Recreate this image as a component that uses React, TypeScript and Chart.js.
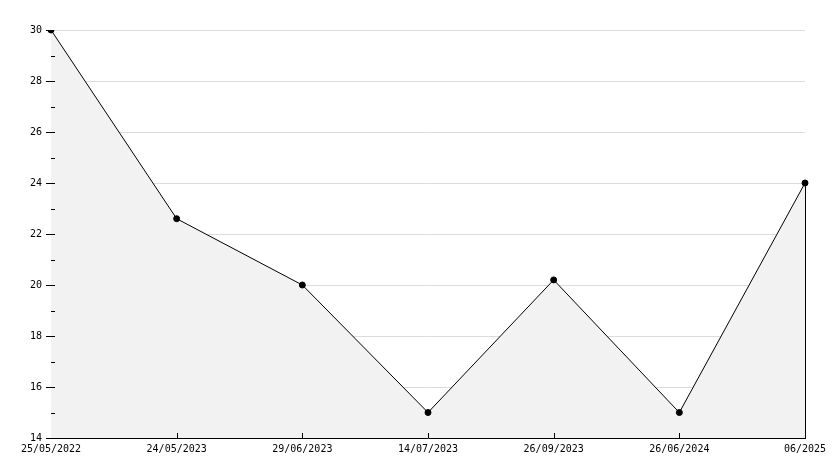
import React, { useEffect, useRef } from "react";
import { Chart, registerables } from "chart.js";

Chart.register(...registerables);

const categories = ["25/05/2022", "24/05/2023", "29/06/2023", "14/07/2023", "26/09/2023", "26/06/2024", "06/2025"];
const values = [30, 22.6, 20, 15, 20.2, 15, 24];
const yMin = 14;
const yMax = 30;
const yStep = 2;

const FONT = "'DejaVu Sans Mono', monospace";

const innerTicks = {
  id: "innerTicks",
  afterDatasetsDraw(chart: any) {
    const ctx = chart.ctx;
    const y = chart.scales.y;
    const x = chart.scales.x;
    const area = chart.chartArea;
    ctx.save();
    ctx.strokeStyle = "#000";
    ctx.lineWidth = 1;
    ctx.beginPath();
    for (let v = yMin + 1; v < yMax; v += 1) {
      const py = Math.round(y.getPixelForValue(v)) + 0.5;
      ctx.moveTo(area.left, py);
      ctx.lineTo(area.left + 4, py);
    }
    for (let i = 1; i < categories.length; i++) {
      const px = Math.round(x.getPixelForValue(i)) + 0.5;
      ctx.moveTo(px, area.bottom);
      ctx.lineTo(px, area.bottom - 5);
    }
    const last = values.length - 1;
    const lx = Math.round(x.getPixelForValue(last)) + 0.5;
    ctx.moveTo(lx, y.getPixelForValue(values[last]));
    ctx.lineTo(lx, area.bottom);
    ctx.stroke();
    ctx.restore();
  },
};

export default function App() {
  const ref = useRef<HTMLCanvasElement | null>(null);
  useEffect(() => {
    if (!ref.current) return;
    const chart = new Chart(ref.current, {
      type: "line",
      data: {
        labels: categories,
        datasets: [
          {
            data: values,
            borderColor: "#000",
            borderWidth: 1,
            backgroundColor: "#f2f2f2",
            fill: "origin",
            tension: 0,
            pointRadius: 3,
            pointBackgroundColor: "#000",
            pointBorderColor: "#000",
            pointStyle: "circle",
          },
        ],
      },
      options: {
        animation: false,
        responsive: false,
        maintainAspectRatio: false,
        layout: { padding: { top: 30, right: 29, left: 0, bottom: 0 } },
        plugins: { legend: { display: false }, tooltip: { enabled: false } },
        scales: {
          x: {
            offset: false,
            grid: { display: false, drawTicks: false },
            border: { color: "#000", width: 1 },
            ticks: {
              color: "#000",
              font: { family: FONT, size: 10 },
              padding: 5,
              maxRotation: 0,
              autoSkip: false,
            },
            afterFit(scale: any) {
              scale.height = 30;
            },
          },
          y: {
            min: yMin,
            max: yMax,
            grid: {
              color: "#dcdcdc",
              tickColor: "#000",
              tickLength: 5,
              lineWidth: 1,
            },
            border: { color: "#000", width: 1 },
            ticks: {
              stepSize: yStep,
              color: "#000",
              font: { family: FONT, size: 10 },
              padding: 4,
            },
            afterFit(scale: any) {
              scale.width = 51;
            },
          },
        },
      },
      plugins: [innerTicks],
    });
    return () => chart.destroy();
  }, []);
  return (
    <div style={{ position: "fixed", left: 0, top: 0, width: 834, height: 468, background: "#fff" }}>
      <canvas ref={ref} width={834} height={468} style={{ width: 834, height: 468 }} />
    </div>
  );
}
